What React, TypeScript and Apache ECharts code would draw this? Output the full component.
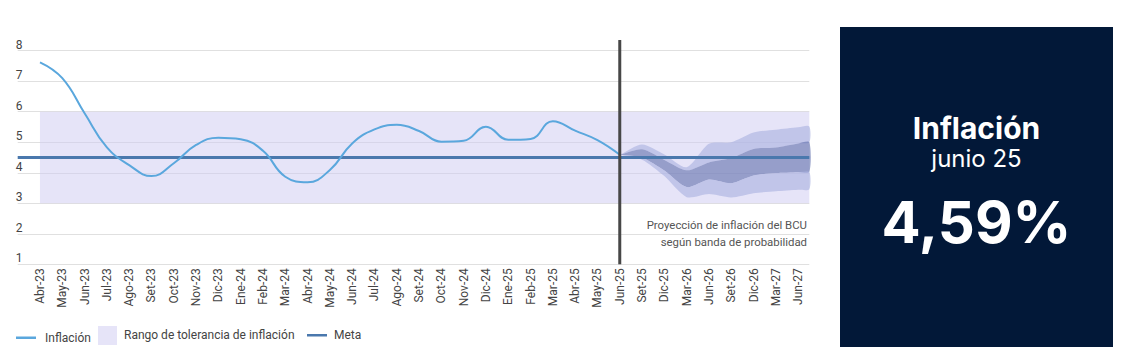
import React, { useEffect, useRef } from "react";
import * as echarts from "echarts";

// ---------- data ----------
const categories = [
  "Abr-23", "May-23", "Jun-23", "Jul-23", "Ago-23", "Set-23", "Oct-23", "Nov-23", "Dic-23",
  "Ene-24", "Feb-24", "Mar-24", "Abr-24", "May-24", "Jun-24", "Jul-24", "Ago-24", "Set-24",
  "Oct-24", "Nov-24", "Dic-24", "Ene-25", "Feb-25", "Mar-25", "Abr-25", "May-25", "Jun-25",
  "Set-25", "Dic-25", "Mar-26", "Jun-26", "Set-26", "Dic-26", "Mar-27", "Jun-27",
];

const inflation = [
  7.62, 7.1, 5.95, 4.83, 4.25, 3.89, 4.31, 4.91, 5.15, 5.1, 4.72, 3.87, 3.69, 4.09,
  4.96, 5.42, 5.57, 5.37, 5.02, 5.05, 5.51, 5.08, 5.11, 5.69, 5.38, 5.07, 4.59,
];

const yTicks = [1, 2, 3, 4, 5, 6, 7, 8];
const metaValue = 4.5;
const toleranceLow = 3;
const toleranceHigh = 6;
const projectionStartIndex = 26; // Jun-25
const projectionLineTop = 8.35; // the divider rises a little above the plot

// fan chart (Jun-25 .. Jun-27, plus the value at the right edge of the plot)
const fanX = [26, 27, 28, 29, 30, 31, 32, 33, 34, 34.5];
const fanOuterUpper = [4.59, 4.93, 4.6, 4.18, 4.95, 5.0, 5.32, 5.41, 5.49, 5.52];
const fanInnerUpper = [4.59, 4.77, 4.42, 4.08, 4.34, 4.48, 4.78, 4.83, 4.96, 5.0];
const fanInnerLower = [4.59, 4.5, 4.07, 3.53, 3.78, 3.66, 3.91, 3.99, 4.02, 4.03];
const fanOuterLower = [4.59, 4.43, 3.89, 3.2, 3.3, 3.19, 3.33, 3.39, 3.44, 3.46];

const COLOR_INFL = "#5aa7dd";
const COLOR_META = "#4a78ad";
const COLOR_BAND = "rgba(205,201,241,0.5)";
const COLOR_BAND_LEGEND = "#e6e4f8";
const COLOR_FAN_LIGHT = "rgba(170,178,224,0.62)";
const COLOR_FAN_DARK = "rgba(100,114,174,0.62)";

const fanBands = [
  { top: fanOuterUpper, bottom: fanInnerUpper, color: COLOR_FAN_LIGHT },
  { top: fanInnerUpper, bottom: fanInnerLower, color: COLOR_FAN_DARK },
  { top: fanInnerLower, bottom: fanOuterLower, color: COLOR_FAN_LIGHT },
];

const X_MIN = -1;
const X_MAX = 34.5;

export default function App() {
  const ref = useRef<HTMLDivElement>(null);

  useEffect(() => {
    if (!ref.current) return;
    const chart = echarts.init(ref.current, undefined, { renderer: "svg" });

    const option: any = {
      animation: false,
      textStyle: { fontFamily: "Roboto" },
      grid: { left: 17.7, right: 315.7, top: 50.7, bottom: 96.7, containLabel: false },
      xAxis: {
        type: "value",
        min: X_MIN,
        max: X_MAX,
        interval: 1,
        axisLine: { show: false },
        axisTick: { show: false },
        splitLine: { show: false },
        axisLabel: {
          rotate: 90,
          margin: 4,
          color: "#444",
          fontSize: 12,
          fontFamily: "Roboto",
          formatter: (v: number) =>
            Number.isInteger(v) && v >= 0 && v < categories.length ? categories[v] : "",
        },
      },
      yAxis: {
        type: "value",
        min: yTicks[0],
        max: yTicks[yTicks.length - 1],
        interval: 1,
        axisLine: { show: false },
        axisTick: { show: false },
        splitLine: { show: true, lineStyle: { color: "#e0e0e0", width: 1 } },
        axisLabel: {
          inside: true,
          margin: -2,
          verticalAlign: "bottom",
          color: "#444",
          fontSize: 12,
          fontFamily: "Roboto",
        },
      },
      series: [
        {
          name: "Rango de tolerancia de inflación",
          type: "line",
          data: [],
          z: 1,
          markArea: {
            silent: true,
            itemStyle: { color: COLOR_BAND },
            data: [[{ xAxis: 0, yAxis: toleranceLow }, { xAxis: X_MAX, yAxis: toleranceHigh }]],
          },
        },
        {
          name: "fan",
          type: "custom",
          z: 2,
          silent: true,
          data: fanBands.map((b) => [fanX[0], b.top[0]]),
          encode: { x: 0, y: 1 },
          renderItem: (params: any, api: any) => {
            const band = fanBands[params.dataIndex];
            const up = band.top.map((v, i) => api.coord([fanX[i], v]));
            const lo = band.bottom.map((v, i) => api.coord([fanX[i], v])).reverse();
            return {
              type: "polygon",
              shape: { points: up.concat(lo), smooth: 0.25 },
              style: { fill: band.color, stroke: "none" },
            };
          },
        },
        {
          name: "Meta",
          type: "line",
          data: [],
          z: 4,
          lineStyle: { color: COLOR_META, width: 3 },
          itemStyle: { color: COLOR_META },
          markLine: {
            silent: true,
            symbol: "none",
            label: { show: false },
            lineStyle: { color: COLOR_META, width: 3, type: "solid" },
            data: [{ yAxis: metaValue }],
          },
        },
        {
          name: "Inflación",
          type: "line",
          z: 5,
          smooth: 0.45,
          showSymbol: false,
          symbol: "none",
          data: inflation.map((v, i) => [i, v]),
          lineStyle: { color: COLOR_INFL, width: 2 },
          itemStyle: { color: COLOR_INFL },
        },
        {
          name: "divider",
          type: "line",
          z: 6,
          clip: false,
          silent: true,
          showSymbol: false,
          symbol: "none",
          data: [
            [projectionStartIndex, yTicks[0]],
            [projectionStartIndex, projectionLineTop],
          ],
          lineStyle: { color: "#474747", width: 3 },
        },
      ],
      graphic: [
        // annotation
        {
          type: "text",
          right: 1125 - 807,
          top: 219,
          style: {
            text: "Proyección de inflación del BCU",
            fill: "#555",
            font: "11.4px Roboto",
            textAlign: "right",
          },
        },
        {
          type: "text",
          right: 1125 - 807,
          top: 236,
          style: {
            text: "según banda de probabilidad",
            fill: "#555",
            font: "11.4px Roboto",
            textAlign: "right",
          },
        },
        // legend
        { type: "rect", shape: { x: 16, y: 336.5, width: 20, height: 2.5 }, style: { fill: COLOR_INFL } },
        {
          type: "text",
          x: 45,
          y: 338,
          style: { text: "Inflación", fill: "#444", font: "12px Roboto", verticalAlign: "middle" },
        },
        { type: "rect", shape: { x: 98, y: 326, width: 19, height: 19 }, style: { fill: COLOR_BAND_LEGEND } },
        {
          type: "text",
          x: 124,
          y: 335,
          style: {
            text: "Rango de tolerancia de inflación",
            fill: "#444",
            font: "12px Roboto",
            verticalAlign: "middle",
          },
        },
        { type: "rect", shape: { x: 307, y: 334, width: 20, height: 2.5 }, style: { fill: COLOR_META } },
        {
          type: "text",
          x: 334,
          y: 335,
          style: { text: "Meta", fill: "#444", font: "12px Roboto", verticalAlign: "middle" },
        },
        // right panel
        { type: "rect", shape: { x: 840, y: 27, width: 273, height: 320 }, style: { fill: "#021838" } },
        {
          type: "text",
          x: 976.5,
          y: 127.5,
          style: {
            text: "Inflación",
            fill: "#fff",
            font: "bold 30px Inter",
            textAlign: "center",
            verticalAlign: "middle",
          },
        },
        {
          type: "text",
          x: 976.5,
          y: 158.8,
          style: {
            text: "junio 25",
            fill: "#fff",
            font: "24px Inter",
            textAlign: "center",
            verticalAlign: "middle",
          },
        },
        {
          type: "text",
          x: 976.5,
          y: 221.7,
          style: {
            text: "4,59%",
            fill: "#fff",
            font: "bold 58px Inter",
            textAlign: "center",
            verticalAlign: "middle",
          },
        },
      ],
    };

    chart.setOption(option);
    return () => chart.dispose();
  }, []);

  return (
    <div
      ref={ref}
      style={{ position: "fixed", left: 0, top: 0, width: 1125, height: 361, background: "#fff" }}
    />
  );
}
